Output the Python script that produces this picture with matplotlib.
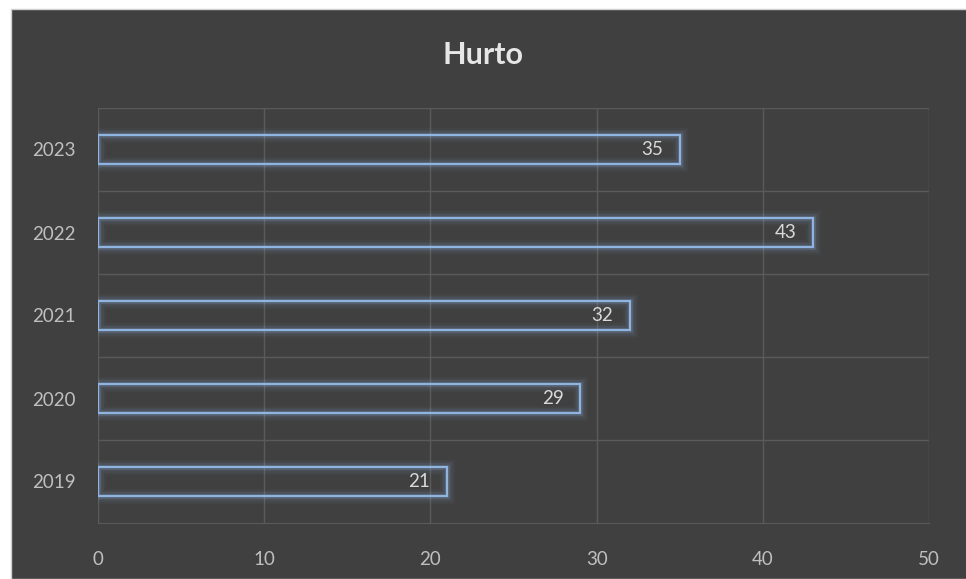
import matplotlib.pyplot as plt
from matplotlib.patches import Rectangle

years = ["2019", "2020", "2021", "2022", "2023"]
values = [21, 29, 32, 43, 35]
x_ticks = [0, 10, 20, 30, 40, 50]

BG = "#404040"
GRID = "#5A5A5A"
EDGE = "#8FB4E0"
TEXT = "#D9D9D9"
FONT = ["Lato", "DejaVu Sans"]

fig = plt.figure(figsize=(9.66, 5.79), dpi=100, facecolor="white")
fig.patches.append(Rectangle((11 / 966, 0), 1, 1 - 9 / 579, transform=fig.transFigure,
                             facecolor=BG, edgecolor="#D0D0D0", linewidth=1, zorder=-10))

ax = fig.add_axes([98 / 966, 1 - 523 / 579, (929 - 98) / 966, (523 - 108) / 579])
ax.set_facecolor("none")

pos = list(range(len(years)))
h = 0.35
# soft glow around each bar
for lw, a in [(11, 0.04), (8, 0.06), (5.5, 0.09), (3.5, 0.14)]:
    ax.barh(pos, values, height=h, facecolor="none", edgecolor=EDGE, linewidth=lw, alpha=a, zorder=2)
bars = ax.barh(pos, values, height=h, facecolor="none", edgecolor=EDGE, linewidth=1.6, zorder=3)

for b, v in zip(bars, values):
    ax.text(v - 1.0, b.get_y() + h / 2, str(v), ha="right", va="center",
            fontsize=13.5, color=TEXT, family=FONT, zorder=4)

ax.set_xlim(0, 50)
ax.set_ylim(-0.5, len(years) - 0.5)
ax.set_xticks(x_ticks)
ax.set_yticks(pos)
ax.set_yticklabels(years)
ax.set_yticks([p + 0.5 for p in pos], minor=True)
ax.grid(axis="x", color=GRID, linewidth=1, zorder=1)
ax.grid(axis="y", which="minor", color=GRID, linewidth=1, zorder=1)
ax.set_axisbelow(True)
ax.tick_params(axis="both", which="both", length=0)
ax.tick_params(axis="y", pad=16)
ax.tick_params(axis="x", pad=20)
for lab in ax.get_xticklabels() + ax.get_yticklabels():
    lab.set_fontsize(13.5)
    lab.set_color("#BFBFBF")
    lab.set_family(FONT)
for s in ["top", "left", "right"]:
    ax.spines[s].set_visible(False)
ax.spines["bottom"].set_color(GRID)

fig.text(0.5, 1 - 55 / 579, "Hurto", ha="center", va="center", fontsize=22,
         fontweight="bold", color="#E6E6E6", family=FONT)

fig.savefig("out.png", dpi=100, facecolor=fig.get_facecolor())
